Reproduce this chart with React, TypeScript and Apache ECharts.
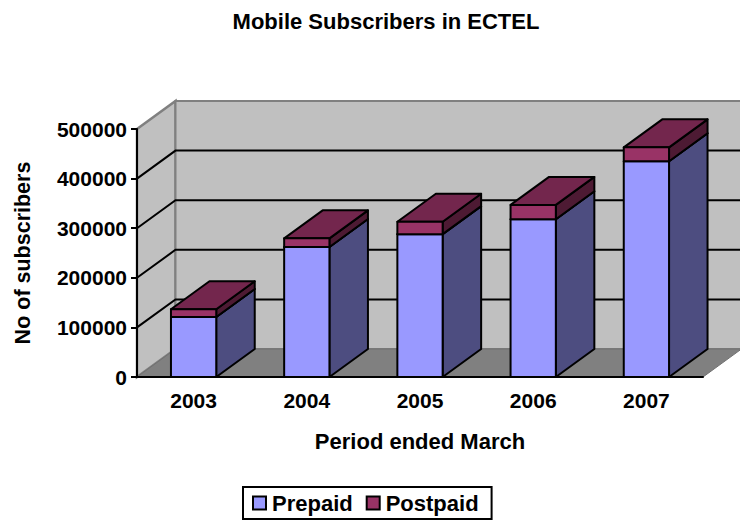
import React, { useEffect, useRef } from "react";
import * as echarts from "echarts";

const titleText = "Mobile Subscribers in ECTEL";
const xName = "Period ended March";
const yName = "No of subscribers";
const categories = ["2003", "2004", "2005", "2006", "2007"];
const prepaid = [121000, 262000, 288000, 318000, 435000];
const postpaid = [15500, 17500, 25000, 29000, 28000];
const yTicks = [100000, 200000, 300000, 400000];
const yMax = 500000;

const FONT = "'Liberation Sans', Arial, sans-serif";
const DX = 38.5;
const DY = -28;
const C = {
  wall: "#c0c0c0",
  edge: "#808080",
  floor: "#808080",
  pre: "#9999ff",
  preSide: "#4d4d80",
  post: "#993366",
  postTop: "#73264d",
  postSide: "#4d1a33",
};

function boxRenderer(vals: number[], bases: number[], front: string, side: string, top: string) {
  return (params: any, api: any) => {
    const i = params.dataIndex;
    const [cx, y0] = api.coord([api.value(0), bases[i]]);
    const y1 = api.coord([api.value(0), bases[i] + vals[i]])[1];
    const w = api.size([1, 0])[0] * 0.4;
    const l = cx - w / 2;
    const r = cx + w / 2;
    const st = (fill: string) => ({ fill, stroke: "#000", lineWidth: 2, lineJoin: "round" });
    return {
      type: "group",
      children: [
        { type: "polygon", shape: { points: [[r, y0], [r + DX, y0 + DY], [r + DX, y1 + DY], [r, y1]] }, style: st(side) },
        { type: "polygon", shape: { points: [[l, y1], [r, y1], [r + DX, y1 + DY], [l + DX, y1 + DY]] }, style: st(top) },
        { type: "rect", shape: { x: l, y: y1, width: w, height: y0 - y1 }, style: st(front) },
      ],
    };
  };
}

function wallRenderer(params: any) {
  const { x, y, width: w, height: h } = params.coordSys;
  const b = y + h;
  const wall = { fill: C.wall, stroke: C.edge, lineWidth: 2.5 };
  return {
    type: "group",
    children: [
      { type: "polygon", shape: { points: [[x, y], [x + DX, y + DY], [x + DX, b + DY], [x, b]] }, style: wall },
      { type: "polygon", shape: { points: [[x + DX, y + DY], [x + w + DX, y + DY], [x + w + DX, b + DY], [x + DX, b + DY]] }, style: { ...wall, lineWidth: 2 } },
      { type: "polygon", shape: { points: [[x, b], [x + DX, b + DY], [x + w + DX, b + DY], [x + w, b]] }, style: { fill: C.floor, stroke: "#707070", lineWidth: 1 } },
    ],
  };
}

function gridRenderer(params: any, api: any) {
  const { x, width: w } = params.coordSys;
  const yy = api.coord([0, api.value(1)])[1];
  const st = { stroke: "#000", lineWidth: 2, fill: "none" };
  return {
    type: "polyline",
    shape: { points: [[x, yy], [x + DX, yy + DY], [x + w + DX, yy + DY]] },
    style: st,
  };
}

export default function App() {
  const ref = useRef<HTMLDivElement>(null);
  useEffect(() => {
    const chart = echarts.init(ref.current!, null, { renderer: "svg" });
    const zeros = prepaid.map(() => 0);
    const txt = { fontFamily: FONT, fontSize: 21, fontWeight: "bold", color: "#000" };
    chart.setOption({
      animation: false,
      textStyle: { fontFamily: FONT },
      title: {
        text: titleText,
        left: 381,
        top: 5,
        textAlign: "center",
        textStyle: { ...txt, fontSize: 22 },
      },
      legend: {
        data: ["Prepaid", "Postpaid"],
        left: 243,
        top: 487,
        orient: "horizontal",
        padding: [5, 13, 5, 9],
        itemGap: 13,
        itemWidth: 13,
        itemHeight: 13,
        borderColor: "#000",
        borderWidth: 2,
        icon: "rect",
        textStyle: { ...txt, fontSize: 22, padding: [0, 0, 0, 1] },
      },
      grid: { left: 137, top: 129, width: 566, height: 248 },
      xAxis: {
        type: "category",
        data: categories,
        z: 10,
        name: xName,
        nameLocation: "middle",
        nameGap: 53,
        nameTextStyle: { ...txt, fontSize: 22 },
        axisLine: { lineStyle: { color: "#000", width: 2 } },
        axisTick: { length: 6, lineStyle: { color: "#000", width: 2 } },
        axisLabel: { ...txt, margin: 13 },
        splitLine: { show: false },
      },
      yAxis: {
        type: "value",
        min: 0,
        max: yMax,
        interval: 100000,
        z: 10,
        name: yName,
        nameLocation: "middle",
        nameGap: 103,
        nameTextStyle: { ...txt, fontSize: 21.5 },
        axisLine: { show: true, lineStyle: { color: "#000", width: 2 } },
        axisTick: { show: true, length: 6, lineStyle: { color: "#000", width: 2 } },
        axisLabel: { ...txt, margin: 10, formatter: (v: number) => String(v) },
        splitLine: { show: false },
      },
      series: [
        { type: "custom", name: "walls", silent: true, z: 1, data: [[0, 0]], renderItem: wallRenderer, clip: false },
        { type: "custom", name: "grid", silent: true, z: 2, data: yTicks.map((v) => [0, v]), renderItem: gridRenderer, clip: false },
        {
          type: "custom",
          name: "Prepaid",
          z: 3,
          itemStyle: { color: C.pre, borderColor: "#000", borderWidth: 2 },
          data: categories.map((_, i) => [i, prepaid[i]]),
          renderItem: boxRenderer(prepaid, zeros, C.pre, C.preSide, C.preSide),
          clip: false,
        },
        {
          type: "custom",
          name: "Postpaid",
          z: 4,
          itemStyle: { color: C.post, borderColor: "#000", borderWidth: 2 },
          data: categories.map((_, i) => [i, prepaid[i] + postpaid[i]]),
          renderItem: boxRenderer(postpaid, prepaid, C.post, C.postSide, C.postTop),
          clip: false,
        },
      ],
    });
    return () => chart.dispose();
  }, []);
  return <div ref={ref} style={{ width: 740, height: 524, position: "absolute", left: 0, top: 0 }} />;
}
